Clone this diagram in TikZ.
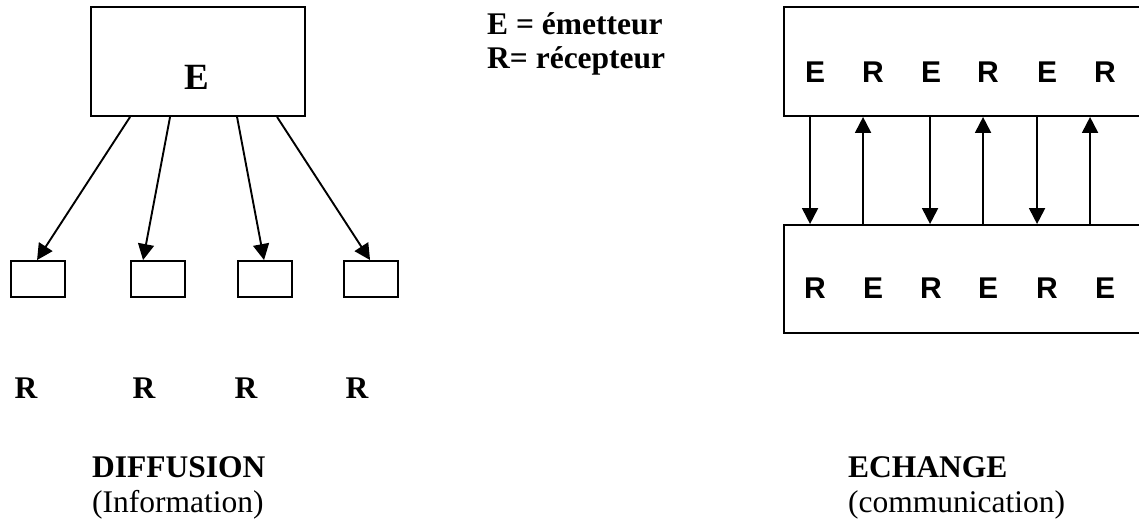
\documentclass[tikz,border=0pt]{standalone}
\usepackage{fontspec}
\setmainfont{Liberation Serif}
\newfontfamily\arialf{Liberation Sans}
\usetikzlibrary{arrows.meta}
\tikzset{
  box/.style={draw, line width=1.9pt, rectangle, inner sep=0pt},
  arr/.style={line width=1.9pt, -{Triangle[length=16pt,width=16pt]}},
  serifb/.style={font=\fontsize{31.5}{36}\selectfont\bfseries, inner sep=0pt},
  serifn/.style={font=\fontsize{31.5}{36}\selectfont, inner sep=0pt},
  sansb/.style={font=\arialf\fontsize{30}{34}\selectfont\bfseries, inner sep=0pt},
}
\begin{document}
\begin{tikzpicture}[x=1pt,y=-1pt]
\useasboundingbox (0,0) rectangle (1139,522);
% left: diffusion
\node[box, minimum width=214pt, minimum height=109pt] (E) at (198,61.5) {};
\node[inner sep=0pt, font=\fontsize{37}{42}\selectfont\bfseries] (Etxt) at (197,77) {E};
\node[box, minimum width=54pt, minimum height=36pt] (r1) at (38,279) {};
\node[box, minimum width=54pt, minimum height=36pt] (r2) at (158,279) {};
\node[box, minimum width=54pt, minimum height=36pt] (r3) at (265,279) {};
\node[box, minimum width=54pt, minimum height=36pt] (r4) at (371,279) {};
\draw[arr] ([xshift=40pt]E.south west) -- ([xshift=27pt]r1.north west);
\draw[arr] ([xshift=80pt]E.south west) -- ([xshift=13pt]r2.north west);
\draw[arr] ([xshift=147pt]E.south west) -- ([xshift=27pt]r3.north west);
\draw[arr] ([xshift=187pt]E.south west) -- ([xshift=27pt]r4.north west);
\node[serifb, anchor=base] (l1) at (26,398) {R};
\node[serifb, anchor=base] (l2) at (144,398) {R};
\node[serifb, anchor=base] (l3) at (246,398) {R};
\node[serifb, anchor=base] (l4) at (357,398) {R};
\node[serifb, anchor=base west] (diff) at (92,477) {DIFFUSION};
\node[serifn, anchor=base west] (info) at (92,512) {(Information)};
% legend
\node[serifb, anchor=base west] (lg1) at (487,34) {E = émetteur};
\node[serifb, anchor=base west] (lg2) at (487,68) {R= récepteur};
% right: echange
\node[box, minimum width=380pt, minimum height=109pt] (top) at (974,61.5) {};
\node[box, minimum width=380pt, minimum height=108pt] (bot) at (974,279) {};
\foreach \i/\x/\a/\b in {1/815/E/R, 2/873/R/E, 3/931/E/R, 4/988/R/E, 5/1047/E/R, 6/1105/R/E}{
  \node[sansb] (t\i) at (\x,72) {\a};
  \node[sansb] (b\i) at (\x,288) {\b};
}
\draw[arr] ([xshift=27pt]top.south west) -- ([xshift=27pt]bot.north west);
\draw[arr] ([xshift=80pt]bot.north west) -- ([xshift=80pt]top.south west);
\draw[arr] ([xshift=147pt]top.south west) -- ([xshift=147pt]bot.north west);
\draw[arr] ([xshift=200pt]bot.north west) -- ([xshift=200pt]top.south west);
\draw[arr] ([xshift=254pt]top.south west) -- ([xshift=254pt]bot.north west);
\draw[arr] ([xshift=307pt]bot.north west) -- ([xshift=307pt]top.south west);
\node[serifb, anchor=base west] (ech) at (848,477) {ECHANGE};
\node[serifn, anchor=base west] (comm) at (848,512) {(communication)};
\end{tikzpicture}
\end{document}
